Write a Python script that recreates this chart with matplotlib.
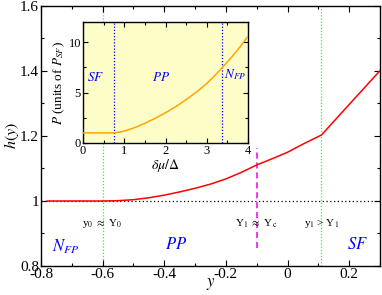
import numpy as np
import matplotlib.pyplot as plt
from matplotlib.ticker import MultipleLocator

plt.rcParams['font.family'] = ['Liberation Serif', 'DejaVu Serif']
plt.rcParams['mathtext.fontset'] = 'stix'

# main curve h(y)
y_vals = [-0.78, -0.6, -0.55, -0.5, -0.45, -0.4, -0.35, -0.3, -0.25, -0.2,
          -0.15, -0.1, -0.05, 0.0, 0.05, 0.11, 0.2, 0.3]
h_vals = [1.0, 1.0, 1.001, 1.004, 1.010, 1.018, 1.028, 1.039, 1.052, 1.068,
          1.088, 1.111, 1.130, 1.150, 1.175, 1.203, 1.297, 1.401]

y0_line = -0.6
y1_line = 0.11
yc_line = -0.1

# inset curve P(dmu/Delta)
dmu = [0.0, 0.74, 0.9, 1.1, 1.3, 1.5, 1.75, 2.0, 2.25, 2.5, 2.75, 3.0,
       3.2, 3.38, 3.6, 3.8, 4.0]
P = [1.0, 1.0, 1.08, 1.3, 1.6, 1.95, 2.45, 3.0, 3.6, 4.3, 5.05, 5.9,
     6.7, 7.5, 8.5, 9.5, 10.6]
inset_lines = [0.74, 3.38]

fig = plt.figure(figsize=(3.82, 2.95), dpi=100)
ax = fig.add_axes([0.1073, 0.0983, 0.8875, 0.8814])

ax.axhline(1.0, color='black', ls=(0, (1, 2)), lw=0.9, zorder=1)
ax.axvline(y0_line, color='#33ee33', ls=(0, (1, 1.5)), lw=0.9, zorder=1)
ax.axvline(y1_line, color='#33ee33', ls=(0, (1, 1.5)), lw=0.9, zorder=1)
ax.plot([yc_line, yc_line], [0.855, 1.163], color='#ee00ee', ls=(0, (4, 2.5)), lw=1.1, zorder=2)
ax.plot(y_vals, h_vals, color='red', lw=1.1, zorder=3)

ax.set_xlim(-0.8, 0.3)
ax.set_ylim(0.8, 1.6)
ax.xaxis.set_minor_locator(MultipleLocator(0.1))
ax.yaxis.set_minor_locator(MultipleLocator(0.1))
ax.set_xticks([-0.8, -0.6, -0.4, -0.2, 0, 0.2])
ax.set_xticklabels(['-0.8', '-0.6', '-0.4', '-0.2', '0', '0.2'])
ax.set_yticks([0.8, 1.0, 1.2, 1.4, 1.6])
ax.set_yticklabels(['0.8', '1', '1.2', '1.4', '1.6'])
ax.tick_params(which='both', direction='in', top=True, right=True, labelsize=11, width=0.8)
ax.tick_params(which='major', length=4, pad=1.5)
ax.tick_params(which='minor', length=2)
for s in ax.spines.values():
    s.set_linewidth(1.0)

ax.set_xlabel(r'$y$', fontsize=12, labelpad=-4)
ax.set_ylabel(r'$h(y)$', fontsize=11.5, labelpad=-1)

ax.text(-0.6, 0.93, r'y$_0$ $\approx$ Y$_0$', fontsize=8, ha='center', va='center')
ax.text(-0.1, 0.93, r'Y$_1$ $\approx$ Y$_\mathrm{c}$', fontsize=8, ha='center', va='center')
ax.text(0.11, 0.93, r'y$_1$ > Y$_1$', fontsize=8, ha='center', va='center')
ax.text(-0.72, 0.86, r'$N_{FP}$', fontsize=12, color='blue', ha='center', va='center')
ax.text(-0.36, 0.865, r'$PP$', fontsize=12, color='blue', ha='center', va='center')
ax.text(0.228, 0.865, r'$SF$', fontsize=12, color='blue', ha='center', va='center')

# inset
ins = fig.add_axes([0.2173, 0.5153, 0.4319, 0.4101])
ins.set_facecolor('#fdfdc8')
ins.plot(dmu, P, color='orange', lw=1.1, zorder=3)
for xl in inset_lines:
    ins.axvline(xl, color='blue', ls=(0, (1, 1.5)), lw=0.9, zorder=2)
ins.set_xlim(0, 4)
ins.set_ylim(0, 12)
ins.xaxis.set_major_locator(MultipleLocator(1))
ins.xaxis.set_minor_locator(MultipleLocator(0.5))
ins.yaxis.set_major_locator(MultipleLocator(5))
ins.yaxis.set_minor_locator(MultipleLocator(2.5))
ins.tick_params(which='both', direction='in', top=True, right=True, labelsize=9, width=0.8)
ins.tick_params(which='major', length=3.5, pad=1.5)
ins.tick_params(which='minor', length=2)
for s in ins.spines.values():
    s.set_linewidth(1.0)
ins.set_xlabel(r'$\delta\mu/\Delta$', fontsize=10, labelpad=0)
ins.set_ylabel(r'$P$ (units of $P_{SF}$)', fontsize=9.5, labelpad=1)
ins.text(0.3, 6.5, r'$SF$', fontsize=9.5, color='blue', ha='center', va='center')
ins.text(1.9, 6.5, r'$PP$', fontsize=9.5, color='blue', ha='center', va='center')
ins.text(3.68, 6.8, r'$N_{FP}$', fontsize=9.5, color='blue', ha='center', va='center')

fig.savefig('out.png', dpi=100)
